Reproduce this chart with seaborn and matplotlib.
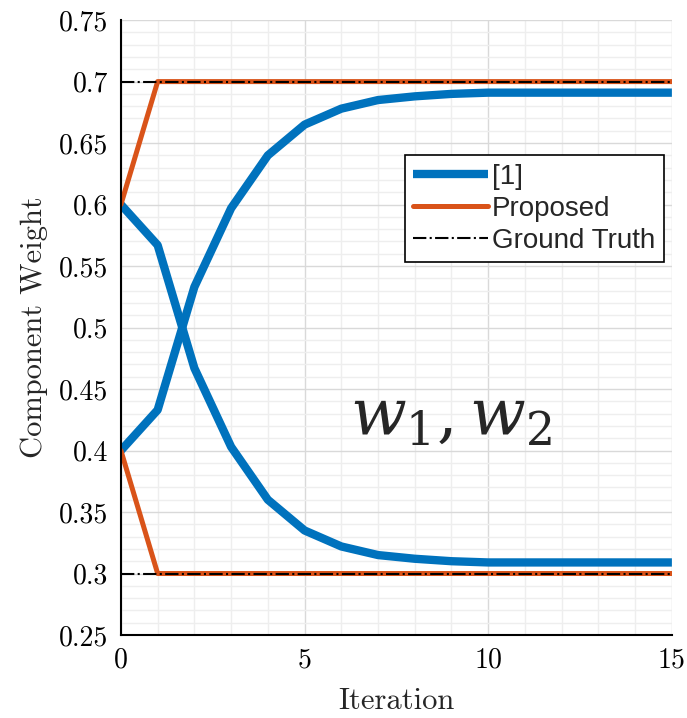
import numpy as np
import pandas as pd
import seaborn as sns
import matplotlib
matplotlib.use("Agg")
import matplotlib.pyplot as plt
from matplotlib.ticker import MultipleLocator

iterations = list(range(16))
ref_w1 = [0.400, 0.433, 0.533, 0.597, 0.640, 0.665, 0.678, 0.685, 0.688, 0.690, 0.691, 0.691, 0.691, 0.691, 0.691, 0.691]
ref_w2 = [0.600, 0.567, 0.467, 0.403, 0.360, 0.335, 0.322, 0.315, 0.312, 0.310, 0.309, 0.309, 0.309, 0.309, 0.309, 0.309]
prop_w1 = [0.6] + [0.7] * 15
prop_w2 = [0.4] + [0.3] * 15
truth_w1 = [0.7] * 16
truth_w2 = [0.3] * 16
x_ticks = [0, 5, 10, 15]
y_ticks = [0.25, 0.3, 0.35, 0.4, 0.45, 0.5, 0.55, 0.6, 0.65, 0.7, 0.75]
y_tick_labels = ["0.25", "0.3", "0.35", "0.4", "0.45", "0.5", "0.55", "0.6", "0.65", "0.7", "0.75"]

sns.set_style("white")
plt.rcParams["mathtext.fontset"] = "dejavuserif"

fig = plt.figure(figsize=(6.87, 7.18), dpi=100)
ax = fig.add_axes([0.176, 0.1156, 0.802, 0.8564])

def df(vals):
    return pd.DataFrame({"x": iterations, "y": vals})

blue = "#0072BD"
orange = "#D95319"
sns.lineplot(data=df(ref_w1), x="x", y="y", ax=ax, color=blue, lw=6, label="[1]", solid_capstyle="butt")
sns.lineplot(data=df(ref_w2), x="x", y="y", ax=ax, color=blue, lw=6, solid_capstyle="butt")
sns.lineplot(data=df(prop_w1), x="x", y="y", ax=ax, color=orange, lw=3.6, label="Proposed")
sns.lineplot(data=df(prop_w2), x="x", y="y", ax=ax, color=orange, lw=3.6)
sns.lineplot(data=df(truth_w1), x="x", y="y", ax=ax, color="black", lw=1.5, ls="-.", label="Ground Truth")
sns.lineplot(data=df(truth_w2), x="x", y="y", ax=ax, color="black", lw=1.5, ls="-.")

ax.set_xlim(0, 15)
ax.set_ylim(0.25, 0.75)
ax.set_xticks(x_ticks)
ax.set_xticklabels([str(t) for t in x_ticks], fontfamily="cmr10", fontsize=20)
ax.set_yticks(y_ticks)
ax.set_yticklabels(y_tick_labels, fontfamily="cmr10", fontsize=20)
ax.xaxis.set_minor_locator(MultipleLocator(1))
ax.yaxis.set_minor_locator(MultipleLocator(0.01))
ax.grid(which="major", color="#d9d9d9", lw=1.0)
ax.grid(which="minor", color="#eeeeee", lw=1.0)
ax.set_axisbelow(True)
ax.tick_params(which="major", direction="in", length=6, width=1.2, colors="black", pad=9)
ax.tick_params(which="minor", length=0)
for s in ["top", "right"]:
    ax.spines[s].set_visible(False)
for s in ["left", "bottom"]:
    ax.spines[s].set_color("black")
    ax.spines[s].set_linewidth(1.5)

ax.set_xlabel("Iteration", fontfamily="cmr10", fontsize=22, labelpad=10)
ax.set_ylabel("Component Weight", fontfamily="cmr10", fontsize=22, labelpad=8)

ax.text(0.60, 0.353, r"$w_1, w_2$", transform=ax.transAxes, fontsize=47, ha="center", va="center")

leg = ax.legend(loc="upper left", bbox_to_anchor=(0.515, 0.78), frameon=True, fancybox=False,
                edgecolor="black", prop={"family": "Liberation Sans", "size": 20},
                handlelength=2.7, handletextpad=0.15, borderpad=0.3, labelspacing=0.22, borderaxespad=0)
leg.get_frame().set_linewidth(1.2)
leg.get_frame().set_alpha(1)

fig.savefig("out.png", dpi=100)
